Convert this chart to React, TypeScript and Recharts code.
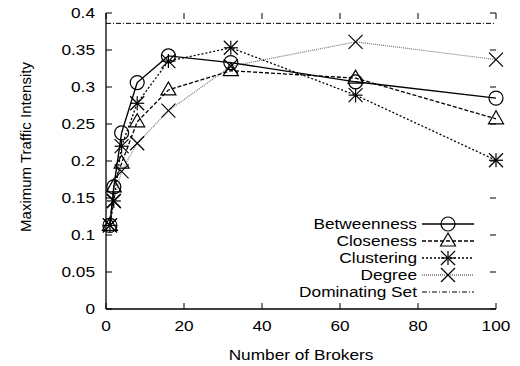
import React from 'react';
import { LineChart, Line, XAxis, YAxis, ReferenceLine, Customized } from 'recharts';

// broker counts and max traffic intensity per heuristic
const brokers = [1, 2, 4, 8, 16, 32, 64, 100];
const betweenness = [0.113, 0.165, 0.238, 0.306, 0.342, 0.333, 0.307, 0.285];
const closeness = [0.113, 0.165, 0.197, 0.253, 0.296, 0.322, 0.312, 0.257];
const clustering = [0.113, 0.146, 0.22, 0.278, 0.335, 0.353, 0.289, 0.201];
const degree = [0.113, 0.146, 0.186, 0.224, 0.268, 0.328, 0.361, 0.337];
const dominatingSet = 0.386;

const xTicks = [0, 20, 40, 60, 80, 100];
const yTicks = [0, 0.05, 0.1, 0.15, 0.2, 0.25, 0.3, 0.35, 0.4];

const data = brokers.map((b, i) => ({
  brokers: b,
  betweenness: betweenness[i],
  closeness: closeness[i],
  clustering: clustering[i],
  degree: degree[i],
}));

const LEFT = 106;
const RIGHT = 496;
const TOP = 13;
const BOTTOM = 309;
const FONT = '"Liberation Sans", Arial, sans-serif';
const SX = 1.15;

type Shape = 'circle' | 'triangle' | 'star' | 'cross';

const Marker = ({ shape, cx, cy }: { shape: Shape; cx: number; cy: number }) => {
  const s = 7;
  const st = { stroke: '#000', strokeWidth: 1.2, fill: 'none' };
  if (shape === 'circle') return <circle cx={cx} cy={cy} r={s} {...st} />;
  if (shape === 'triangle')
    return <polygon points={`${cx},${cy - 8} ${cx - 7.5},${cy + 5} ${cx + 7.5},${cy + 5}`} {...st} />;
  if (shape === 'cross')
    return (
      <g {...st}>
        <line x1={cx - s} y1={cy - s} x2={cx + s} y2={cy + s} />
        <line x1={cx - s} y1={cy + s} x2={cx + s} y2={cy - s} />
      </g>
    );
  return (
    <g {...st}>
      <line x1={cx - s} y1={cy - s} x2={cx + s} y2={cy + s} />
      <line x1={cx - s} y1={cy + s} x2={cx + s} y2={cy - s} />
      <line x1={cx - s} y1={cy} x2={cx + s} y2={cy} />
      <line x1={cx} y1={cy - s} x2={cx} y2={cy + s} />
    </g>
  );
};

const dotFor = (shape: Shape) => (p: any) =>
  <Marker key={`${shape}-${p.index}`} shape={shape} cx={p.cx} cy={p.cy} />;

const YTick = ({ y, payload }: any) => (
  <g>
    <line x1={LEFT} x2={LEFT + 6} y1={y} y2={y} stroke="#000" />
    <line x1={RIGHT - 6} x2={RIGHT} y1={y} y2={y} stroke="#000" />
    <text
      transform={`translate(95,${y + 5}) scale(${SX},1)`}
      textAnchor="end"
      fontFamily={FONT}
      fontSize={15}
      fill="#000"
    >
      {String(payload.value)}
    </text>
  </g>
);

const XTick = ({ x, payload }: any) => (
  <g>
    <line x1={x} x2={x} y1={BOTTOM} y2={BOTTOM - 6} stroke="#000" />
    <line x1={x} x2={x} y1={TOP} y2={TOP + 6} stroke="#000" />
    <text
      transform={`translate(${x},331) scale(${SX},1)`}
      textAnchor="middle"
      fontFamily={FONT}
      fontSize={15}
      fill="#000"
    >
      {String(payload.value)}
    </text>
  </g>
);

const legendItems: { name: string; shape?: Shape; dash?: string; color: string }[] = [
  { name: 'Betweenness', shape: 'circle', color: '#000' },
  { name: 'Closeness', shape: 'triangle', dash: '4 2', color: '#000' },
  { name: 'Clustering', shape: 'star', dash: '2 2', color: '#000' },
  { name: 'Degree', shape: 'cross', dash: '1 1', color: '#777' },
  { name: 'Dominating Set', dash: '5 2 1 2', color: '#000' },
];

const Labels = () => (
  <g>
    <text
      transform={`translate(31,147) rotate(-90)`}
      textAnchor="middle"
      fontFamily={FONT}
      fontSize={15}
      fill="#000"
    >
      Maximum Traffic Intensity
    </text>
    <text
      transform={`translate(301,360) scale(${SX},1)`}
      textAnchor="middle"
      fontFamily={FONT}
      fontSize={15}
      fill="#000"
    >
      Number of Brokers
    </text>
    {legendItems.map((it, i) => {
      const y = 224 + i * 17;
      return (
        <g key={it.name}>
          <text
            transform={`translate(417,${y + 5}) scale(${SX},1)`}
            textAnchor="end"
            fontFamily={FONT}
            fontSize={15}
            fill="#000"
          >
            {it.name}
          </text>
          <line
            x1={422}
            x2={474}
            y1={y}
            y2={y}
            stroke={it.color}
            strokeWidth={it.name === 'Dominating Set' ? 1 : 1.3}
            strokeDasharray={it.dash}
          />
          {it.shape && <Marker shape={it.shape} cx={448} cy={y} />}
        </g>
      );
    })}
  </g>
);

export default function App() {
  return (
    <div style={{ position: 'absolute', left: 0, top: 0, background: '#fff' }}>
      <LineChart
        width={520}
        height={366}
        data={data}
        margin={{ top: TOP, right: 520 - RIGHT, left: 0, bottom: 0 }}
      >
        <XAxis
          dataKey="brokers"
          type="number"
          domain={[0, 100]}
          ticks={xTicks}
          height={366 - BOTTOM}
          tick={<XTick />}
          tickLine={false}
          axisLine={{ stroke: '#000', strokeWidth: 1.3 }}
          interval={0}
        />
        <XAxis
          xAxisId="top"
          orientation="top"
          type="number"
          domain={[0, 100]}
          height={0}
          tick={false}
          tickLine={false}
          axisLine={{ stroke: '#000', strokeWidth: 1.3 }}
        />
        <YAxis
          type="number"
          domain={[0, 0.4]}
          ticks={yTicks}
          width={LEFT}
          tick={<YTick />}
          tickLine={false}
          axisLine={{ stroke: '#000', strokeWidth: 1.3 }}
          interval={0}
        />
        <YAxis
          yAxisId="right"
          orientation="right"
          type="number"
          domain={[0, 0.4]}
          width={0}
          tick={false}
          tickLine={false}
          axisLine={{ stroke: '#000', strokeWidth: 1.3 }}
        />
        <ReferenceLine y={dominatingSet} stroke="#000" strokeWidth={1} strokeDasharray="5 2 1 2" />
        <Line
          dataKey="degree"
          stroke="#777"
          strokeWidth={1.2}
          strokeDasharray="1 1"
          dot={dotFor('cross')}
          activeDot={false}
          isAnimationActive={false}
        />
        <Line
          dataKey="clustering"
          stroke="#000"
          strokeWidth={1.3}
          strokeDasharray="2 2"
          dot={dotFor('star')}
          activeDot={false}
          isAnimationActive={false}
        />
        <Line
          dataKey="closeness"
          stroke="#000"
          strokeWidth={1.3}
          strokeDasharray="4 2"
          dot={dotFor('triangle')}
          activeDot={false}
          isAnimationActive={false}
        />
        <Line
          dataKey="betweenness"
          stroke="#000"
          strokeWidth={1.4}
          dot={dotFor('circle')}
          activeDot={false}
          isAnimationActive={false}
        />
        <Customized component={Labels} />
      </LineChart>
    </div>
  );
}
